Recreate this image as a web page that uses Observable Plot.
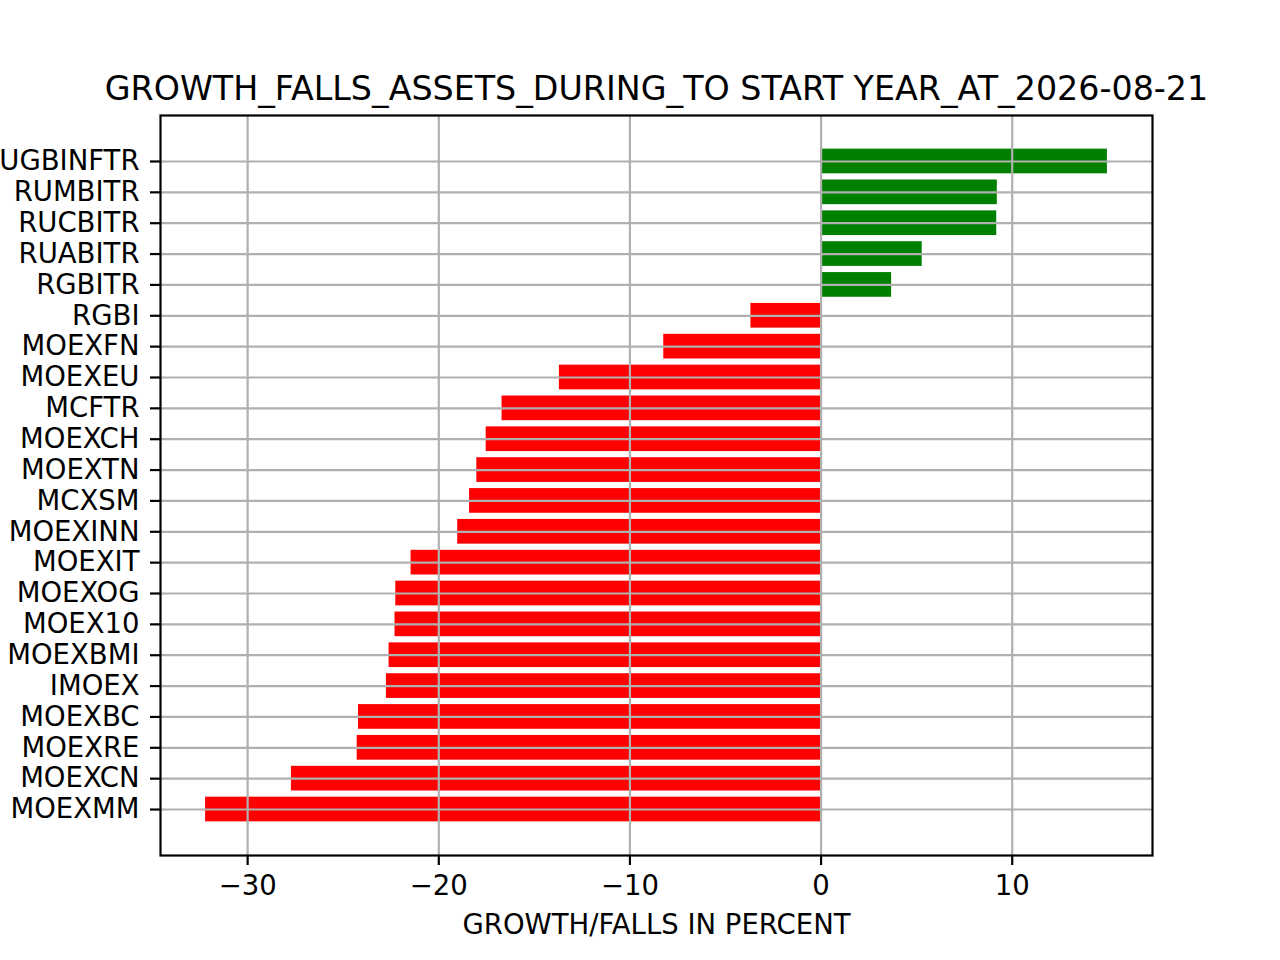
<!DOCTYPE html>
<html>
<head>
<meta charset="utf-8">
<script src="https://cdn.jsdelivr.net/npm/d3@7"></script>
<script src="https://cdn.jsdelivr.net/npm/@observablehq/plot@0.6"></script>
<style>
  html, body { margin: 0; padding: 0; background: #fff; }
  #chart svg { display: block; }
</style>
</head>
<body>
<div id="chart"></div>
<script>
const title = "GROWTH_FALLS_ASSETS_DURING_TO START YEAR_AT_2026-08-21";
const xLabel = "GROWTH/FALLS IN PERCENT";

// top-to-bottom order as shown
const assets = ["RUGBINFTR","RUMBITR","RUCBITR","RUABITR","RGBITR","RGBI","MOEXFN","MOEXEU","MCFTR","MOEXCH","MOEXTN","MCXSM","MOEXINN","MOEXIT","MOEXOG","MOEX10","MOEXBMI","IMOEX","MOEXBC","MOEXRE","MOEXCN","MOEXMM"];
const changes = [14.98, 9.22, 9.19, 5.29, 3.69, -3.67, -8.23, -13.69, -16.69, -17.52, -18.01, -18.39, -19.01, -21.45, -22.25, -22.29, -22.60, -22.74, -24.20, -24.27, -27.71, -32.20];
const xTicks = [-30, -20, -10, 0, 10];

const data = assets.map((a, i) => ({asset: a, value: changes[i]}));

const lo = Math.min(0, d3.min(changes)), hi = Math.max(0, d3.max(changes));
const pad = (hi - lo) * 0.05;

const FONT = "DejaVu Sans";
const GRID = "#b0b0b0";

const plot = Plot.plot({
  width: 1280,
  height: 960,
  marginTop: 115,
  marginRight: 128,
  marginBottom: 105,
  marginLeft: 160,
  style: {fontFamily: FONT, fontSize: "27.5px", color: "#000", background: "#fff", overflow: "visible"},
  x: {domain: [lo - pad, hi + pad], ticks: xTicks},
  y: {type: "band", domain: assets, paddingInner: 0.2, paddingOuter: 1.09, align: 0.5, round: false},
  marks: [
    Plot.barX(data, {x1: 0, x2: "value", y: "asset", fill: d => d.value >= 0 ? "green" : "red"}),
    Plot.gridX(xTicks, {stroke: GRID, strokeOpacity: 1, strokeWidth: 2.2}),
    Plot.gridY(assets, {stroke: GRID, strokeOpacity: 1, strokeWidth: 2.2}),
    Plot.axisX(xTicks, {tickSize: 10, tickPadding: 10, strokeWidth: 2.2, fontSize: 27.5, label: null}),
    Plot.axisY(assets, {tickSize: 10, tickPadding: 11, strokeWidth: 2.2, fontSize: 27.5, label: null}),
    Plot.frame({stroke: "black", strokeWidth: 2.2}),
    Plot.text([title], {frameAnchor: "top", lineAnchor: "bottom", dy: -16, fontSize: 33.3, fill: "black"}),
    Plot.text([xLabel], {frameAnchor: "bottom", lineAnchor: "bottom", dy: 78, fontSize: 27.5, fill: "black"})
  ]
});
document.getElementById("chart").appendChild(plot);
</script>
</body>
</html>
